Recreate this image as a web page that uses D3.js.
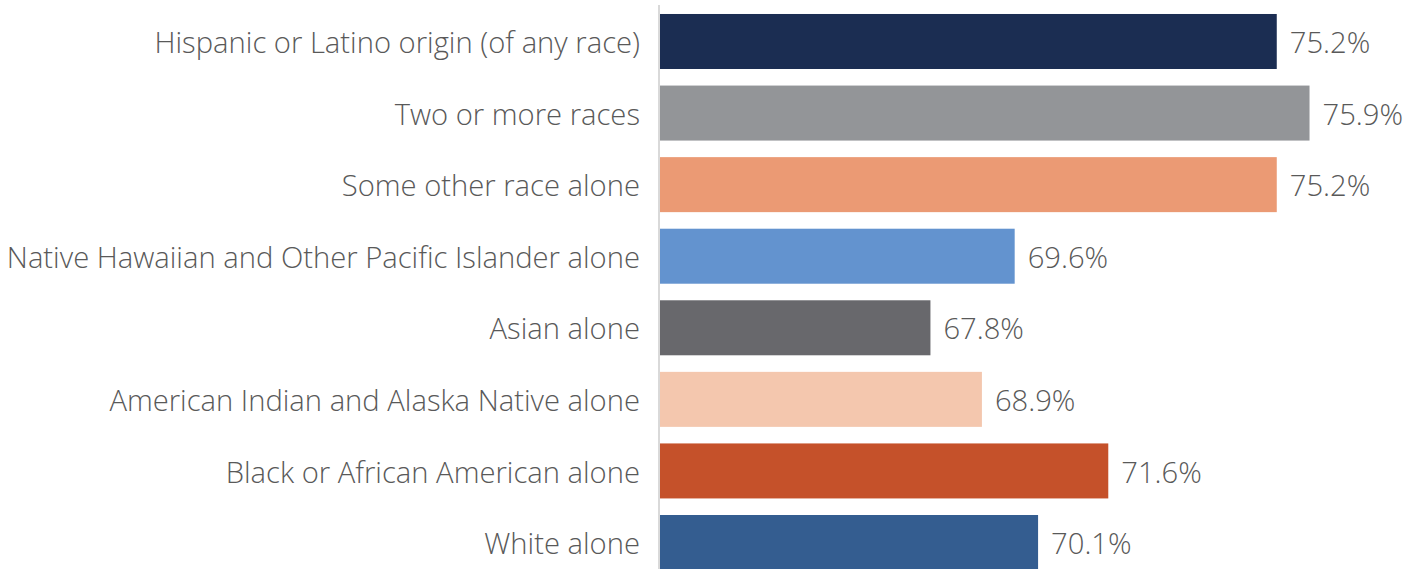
<!DOCTYPE html>
<html>
<head>
<meta charset="utf-8">
<script src="https://cdn.jsdelivr.net/npm/d3@7"></script>
<style>
  html, body { margin: 0; padding: 0; background: #ffffff; }
  svg { display: block; }
  text { font-family: "Open Sans", sans-serif; font-weight: 300; fill: #595959; }
</style>
</head>
<body>
<svg id="chart" width="1420" height="569"></svg>
<script>
// Share (%) by race / Hispanic origin
const categories = [
  "Hispanic or Latino origin (of any race)",
  "Two or more races",
  "Some other race alone",
  "Native Hawaiian and Other Pacific Islander alone",
  "Asian alone",
  "American Indian and Alaska Native alone",
  "Black or African American alone",
  "White alone"
];
const values = [75.2, 75.9, 75.2, 69.6, 67.8, 68.9, 71.6, 70.1];
const colors = ["#1b2d52", "#939598", "#eb9a74", "#6393cf", "#68686c", "#f4c7ae", "#c5512a", "#345d90"];

const svg = d3.select("#chart");
const axisX = 659;
const fontSize = 29.2;

const x = d3.scaleLinear().domain([62, 78]).range([axisX, axisX + 16 * 46.8]);
const y = d3.scaleBand()
  .domain(categories)
  .range([5.7, 578.3])
  .paddingInner(0.2315)
  .paddingOuter(0.1158);

const rows = svg.append("g").selectAll("g")
  .data(categories.map((c, i) => ({ c, v: values[i], col: colors[i] })))
  .join("g");

rows.append("rect")
  .attr("x", x(62))
  .attr("y", d => y(d.c))
  .attr("width", d => x(d.v) - x(62))
  .attr("height", y.bandwidth())
  .attr("fill", d => d.col);

rows.append("text")
  .attr("x", d => x(d.v) + 13)
  .attr("y", d => y(d.c) + y.bandwidth() / 2)
  .attr("dy", "0.4em")
  .attr("font-size", fontSize)
  .text(d => d.v.toFixed(1) + "%");

// category axis
const yAxis = d3.axisLeft(y).tickSize(0).tickPadding(19);
const ga = svg.append("g").attr("transform", `translate(${axisX},0)`).call(yAxis);
ga.select(".domain").remove();
ga.selectAll("text")
  .attr("font-size", fontSize)
  .attr("dy", "0.4em")
  .style("font-family", "'Open Sans', sans-serif")
  .style("font-weight", 300)
  .attr("fill", "#595959");

svg.append("line")
  .attr("x1", axisX).attr("x2", axisX)
  .attr("y1", 5).attr("y2", 569)
  .attr("stroke", "#d9d9d9")
  .attr("stroke-width", 2);
</script>
</body>
</html>
